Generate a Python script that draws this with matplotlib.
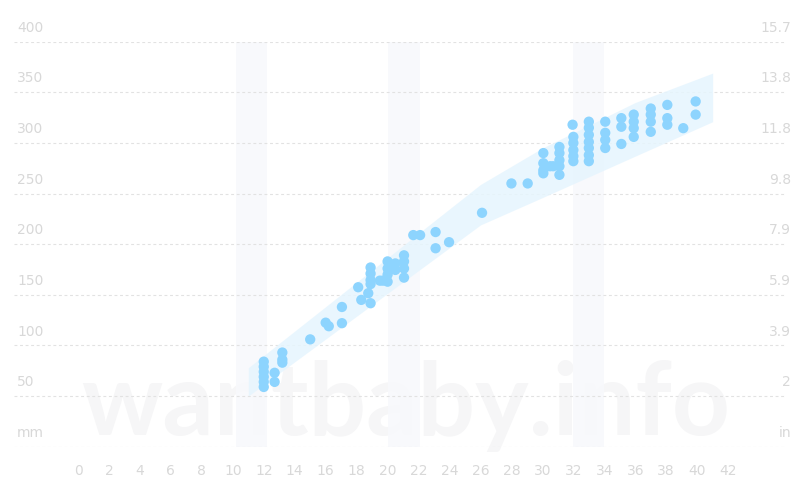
import matplotlib
matplotlib.use("Agg")
import matplotlib.pyplot as plt
import matplotlib.transforms as mtransforms

# ---- data ----
x_ticks = list(range(0, 43, 2))
y_ticks_mm = [0, 50, 100, 150, 200, 250, 300, 350, 400]
y_labels_mm = ["mm", "50", "100", "150", "200", "250", "300", "350", "400"]
y_labels_in = ["in", "2", "3.9", "5.9", "7.9", "9.8", "11.8", "13.8", "15.7"]

band_weeks = [11, 26, 30, 36, 41]
band_low = [50, 219, 246, 287, 321]
band_high = [78, 259, 295, 340, 369]

screen_starts = [10.2, 20.0, 32.0]
screen_ends = [12.2, 22.1, 34.0]

pt_weeks = [12, 12, 12, 12, 12, 12, 12.7, 12.7, 13.2, 13.2, 13.2,
            15.0, 16.0, 16.2, 17.05, 17.05,
            18.1, 18.3, 18.75, 18.9, 18.9, 18.9, 18.9, 18.9,
            19.5, 19.7, 20.0, 20.0, 20.0, 20.0, 20.5, 20.5,
            21.06, 21.06, 21.06, 21.06, 21.66, 22.1, 23.1, 23.1, 23.97,
            26.1, 28.0, 29.05,
            30.06, 30.06, 30.06, 30.06, 30.5, 30.7,
            31.1, 31.1, 31.1, 31.1, 31.1, 31.95,
            32.0, 32.0, 32.0, 32.0, 32.0,
            33.0, 33.0, 33.0, 33.0, 33.0, 33.0, 33.0,
            34.06, 34.06, 34.06, 34.06,
            35.1, 35.1, 35.1,
            35.9, 35.9, 35.9, 35.9,
            37.0, 37.0, 37.0, 37.0,
            38.07, 38.07, 38.07, 39.1, 39.9, 39.9]
pt_mm = [84, 79, 74, 69, 64, 59, 73, 64, 93, 86, 83,
         106, 122.5, 119, 138, 122,
         157.5, 145, 151.6, 141.7, 177, 171, 164.5, 160.6,
         164, 164, 183, 176, 170, 163, 181, 174.6,
         189, 183, 176, 167, 209, 209, 212, 196, 202,
         231, 260, 260,
         290, 280, 273, 270, 277, 277,
         296, 290, 283, 277, 268.5, 318,
         306, 300, 293, 287, 282,
         321, 315, 308, 301, 295, 288, 282,
         321, 310, 303, 295,
         324.5, 316, 299,
         328, 321, 314.6, 306,
         334, 328, 321, 311,
         337.6, 324.5, 318, 314.6, 341, 328]

# ---- figure ----
W, H = 810, 500
fig = plt.figure(figsize=(W / 100, H / 100), dpi=100)
fig.patch.set_facecolor("white")

ax_left, ax_right = 14, 785
ax_top, ax_bottom = 41.7, 446.7
ax = fig.add_axes([ax_left / W, 1 - ax_bottom / H, (ax_right - ax_left) / W, (ax_bottom - ax_top) / H])
px_per_week = 15.48
x0_px = 78
ax.set_xlim((ax_left - x0_px) / px_per_week, (ax_right - x0_px) / px_per_week)
ax.set_ylim(0, 400)
ax.set_axis_off()

label_color = "#d8d8d8"
grid_color = "#e2e2e2"

# watermark (behind everything)
ax.text(406 / W, 1 - 435 / H, "wantbaby.info", transform=fig.transFigure,
        ha="center", va="baseline", fontsize=73, fontweight="bold",
        color="#f6f6f7", family="Lato", zorder=0.5, clip_on=False)

# screening bands
for s, e in zip(screen_starts, screen_ends):
    ax.axvspan(s, e, color="#f8f9fc", alpha=0.9, zorder=1, lw=0)

# grid lines
for v in y_ticks_mm:
    ax.axhline(v, color=grid_color, lw=0.8, ls=(0, (2.6, 2.4)), zorder=2)

# normal range band
ax.fill_between(band_weeks, band_low, band_high, color="#e6f5fe", alpha=0.85, lw=0, zorder=3)

# points
ax.scatter(pt_weeks, pt_mm, s=55, color="#8dd4fe", edgecolors="none", zorder=4)

# left / right labels
trans_l = mtransforms.blended_transform_factory(fig.transFigure, ax.transData)
for v, lab, lab_in in zip(y_ticks_mm, y_labels_mm, y_labels_in):
    ax.annotate(lab, xy=(17 / W, v), xycoords=trans_l, xytext=(0, 5), textcoords="offset points",
                ha="left", va="bottom", fontsize=10, color=label_color, zorder=5)
    ax.annotate(lab_in, xy=(791 / W, v), xycoords=trans_l,
                xytext=(0, 5), textcoords="offset points",
                ha="right", va="bottom", fontsize=10, color=label_color, zorder=5)

# bottom labels
trans_b = mtransforms.blended_transform_factory(ax.transData, fig.transFigure)
for t in x_ticks:
    ax.text(t, 1 - 471 / H, str(t), transform=trans_b, ha="center", va="center",
            fontsize=10, color=label_color, clip_on=False)

fig.savefig("out.png", dpi=100, facecolor="white")
